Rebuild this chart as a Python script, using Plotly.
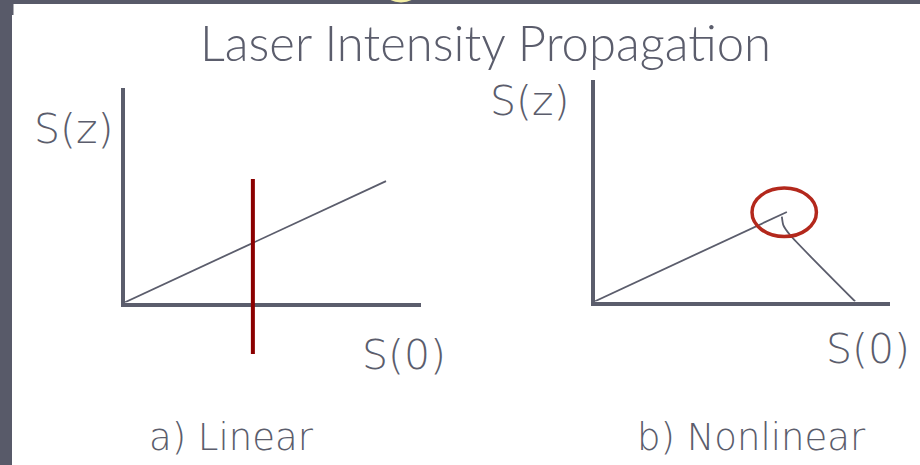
import plotly.graph_objects as go

W, H = 920, 465

# ---- data (arbitrary units: S(0) on x, S(z) on y, axes 0..10) ----
linear_s0 = [0.0, 8.82]
linear_sz = [0.0, 5.66]
cut_s0 = [4.33]            # vertical red marker on linear panel

nonlin_rise_s0 = [0.0, 6.51]
nonlin_rise_sz = [0.0, 4.04]
nonlin_fall_s0 = [6.34, 6.39, 6.62, 8.82]
nonlin_fall_sz = [3.83, 3.45, 3.00, 0.0]
peak_s0_range = [5.33, 7.51]   # red ellipse extent
peak_sz_range = [2.93, 5.12]

title_text = "Laser Intensity Propagation"
y_label = "S(z)"
x_label = "S(0)"
panel_labels = ["a) Linear", "b) Nonlinear"]

# ---- styling ----
INK = "#5b5d6c"
DARK_RED = "#8b0000"
CIRCLE_RED = "#b3281c"
TITLE_FONT = "Lato"
LABEL_FONT = "DejaVu Sans"


def px(x):
    return x / W


def py(y):
    return 1 - y / H


fig = go.Figure()

fig.add_trace(go.Scatter(x=linear_s0, y=linear_sz, mode="lines",
                         line=dict(color=INK, width=1.8),
                         xaxis="x", yaxis="y", hoverinfo="skip"))
fig.add_trace(go.Scatter(x=nonlin_rise_s0, y=nonlin_rise_sz, mode="lines",
                         line=dict(color=INK, width=1.8),
                         xaxis="x2", yaxis="y2", hoverinfo="skip"))
fig.add_trace(go.Scatter(x=nonlin_fall_s0, y=nonlin_fall_sz, mode="lines",
                         line=dict(color=INK, width=1.8, shape="spline", smoothing=0.6),
                         xaxis="x2", yaxis="y2", hoverinfo="skip"))

axis_common = dict(showline=True, linecolor=INK, linewidth=3.5, showgrid=False,
                   zeroline=False, showticklabels=False, ticks="", range=[0, 10],
                   fixedrange=True)

fig.update_layout(
    width=W, height=H,
    margin=dict(l=0, r=0, t=0, b=0),
    paper_bgcolor="white", plot_bgcolor="rgba(0,0,0,0)",
    showlegend=False,
    xaxis=dict(domain=[px(124.5), px(421)], anchor="y", **axis_common),
    yaxis=dict(domain=[py(302.5), py(88)], anchor="x", **axis_common),
    xaxis2=dict(domain=[px(594.5), px(890)], anchor="y2", **axis_common),
    yaxis2=dict(domain=[py(301.5), py(80)], anchor="x2", **axis_common),
)

shapes = [
    # slide frame: left and top dark bars
    dict(type="rect", xref="paper", yref="paper", x0=0, x1=px(12), y0=0, y1=1,
         fillcolor="#585a69", line=dict(width=0), layer="above"),
    dict(type="rect", xref="paper", yref="paper", x0=0, x1=1, y0=py(4), y1=1,
         fillcolor="#585a69", line=dict(width=0), layer="above"),
    dict(type="rect", xref="paper", yref="paper", x0=px(12), x1=px(13.5), y0=py(15), y1=1,
         fillcolor="#585a69", line=dict(width=0), layer="above"),
    # partial yellow glyph peeking at top
    dict(type="circle", xref="paper", yref="paper", x0=px(386), x1=px(416),
         y0=py(2.5), y1=py(-14), fillcolor="#f4efa6", line=dict(width=0), layer="above"),
    # red vertical marker on linear panel (x in data units, y relative to panel)
    dict(type="line", xref="x", yref="y domain", x0=cut_s0[0], x1=cut_s0[0],
         y0=-0.240, y1=0.576, line=dict(color=DARK_RED, width=4), layer="above"),
    # red ellipse on nonlinear panel
    dict(type="circle", xref="x2", yref="y2",
         x0=peak_s0_range[0], x1=peak_s0_range[1],
         y0=peak_sz_range[0], y1=peak_sz_range[1],
         line=dict(color=CIRCLE_RED, width=3.5), layer="above"),
]
fig.update_layout(shapes=shapes)


def ann(text, x, y, size, family=LABEL_FONT, weight=200):
    return dict(text=text, xref="paper", yref="paper", x=px(x), y=py(y),
                xanchor="center", yanchor="middle", showarrow=False,
                font=dict(family=family, size=size, color=INK, weight=weight))


fig.update_layout(annotations=[
    ann(title_text, 485, 42, 49, family=TITLE_FONT, weight=300),
    ann(y_label, 74, 129, 41),
    ann(y_label, 530, 101, 41),
    ann(x_label, 403.5, 355, 41),
    ann(x_label, 867.5, 349, 41),
    ann(panel_labels[0], 231.5, 437, 37),
    ann(panel_labels[1], 751, 437, 37),
])

fig.write_html("out.html", config=dict(displayModeBar=False),
               post_script="document.body.style.margin='0';document.body.style.padding='0';")
